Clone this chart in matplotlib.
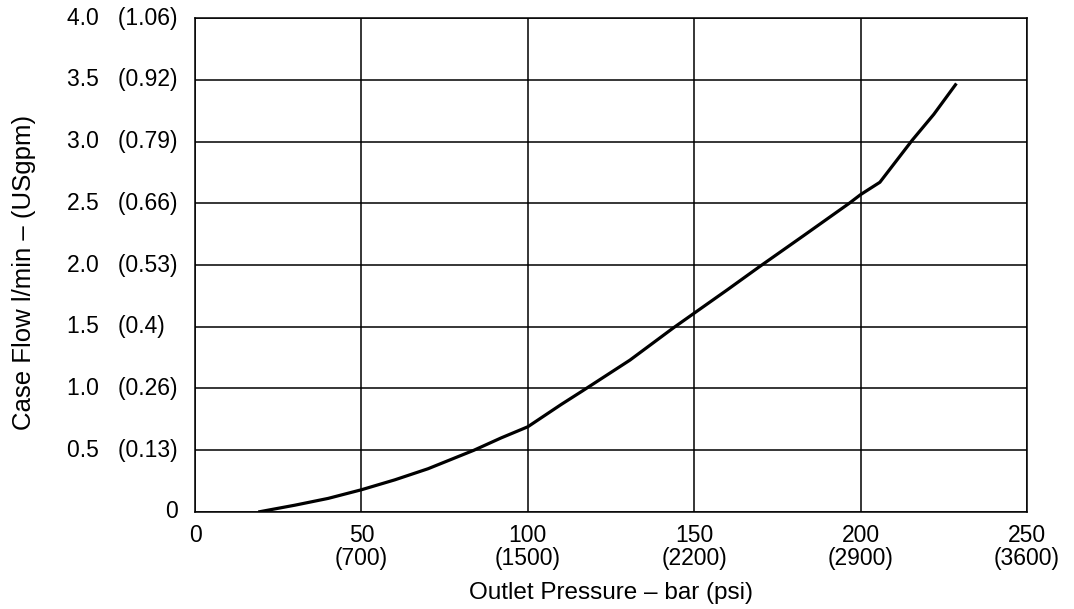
import numpy as np
import matplotlib
matplotlib.use("Agg")
import matplotlib.pyplot as plt
from matplotlib.transforms import blended_transform_factory

plt.rcParams['font.family'] = ['Liberation Sans', 'DejaVu Sans']

# Courbe : pression de sortie (bar) / débit de fuite (l/min)
pression = [19, 30, 40, 50, 60, 70, 83.8, 92, 100, 110, 116.4, 130.7, 143.7,
            150, 160, 169.8, 183, 196.6, 200, 205.8, 215.5, 222, 228.8]
debit = [0.0, 0.055, 0.11, 0.18, 0.26, 0.35, 0.5, 0.6, 0.69, 0.87, 0.98, 1.23,
         1.49, 1.61, 1.8, 1.99, 2.24, 2.5, 2.57, 2.67, 3.01, 3.22, 3.47]

# Graduations
x_ticks = [0, 50, 100, 150, 200, 250]
x_labels = ["0", "50\n(700)", "100\n(1500)", "150\n(2200)", "200\n(2900)", "250\n(3600)"]
y_ticks = [0, 0.5, 1.0, 1.5, 2.0, 2.5, 3.0, 3.5, 4.0]
y_labels = ["0", "0.5   (0.13)", "1.0   (0.26)", "1.5   (0.4)", "2.0   (0.53)",
            "2.5   (0.66)", "3.0   (0.79)", "3.5   (0.92)", "4.0   (1.06)"]

fig = plt.figure(figsize=(10.74, 6.09), dpi=100)
ax = fig.add_axes([0.1816, 0.1593, 0.7746, 0.8111])

ax.plot(pression, debit, color="black", linewidth=2.3, solid_capstyle="butt")

ax.set_xlim(0, 250)
ax.set_ylim(0, 4)
ax.set_xticks(x_ticks)
ax.set_xticklabels(x_labels, fontsize=16.5, linespacing=0.95)
ax.set_yticks(y_ticks)
ax.set_yticklabels([])
ax.tick_params(length=0, pad=9)
ax.grid(True, color="black", linewidth=1.1)
for s in ax.spines.values():
    s.set_linewidth(1.1)

# Etiquettes de l'axe y alignées à gauche
trans = blended_transform_factory(fig.transFigure, ax.transData)
for val, lab in zip(y_ticks, y_labels):
    if val == 0:
        ax.text(178 / 1074, val, lab, transform=trans, ha="right", va="center", fontsize=16.5)
    else:
        ax.text(67 / 1074, val, lab, transform=trans, ha="left", va="center", fontsize=16.5)

ax.set_xlabel("Outlet Pressure – bar (psi)", fontsize=17.5, labelpad=9)
fig.text(24 / 1074, 0.553, "Case Flow l/min – (USgpm)", rotation=90,
         ha="center", va="center", fontsize=18.5)

fig.savefig("out.png", dpi=100)
